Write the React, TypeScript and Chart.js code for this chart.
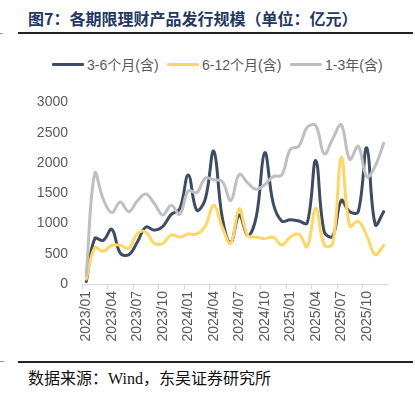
import React, { useEffect, useRef } from "react";
import { Chart, registerables } from "chart.js";

Chart.register(...registerables);

const categories = [
  "2023/01", "2023/02", "2023/03", "2023/04", "2023/05", "2023/06",
  "2023/07", "2023/08", "2023/09", "2023/10", "2023/11", "2023/12",
  "2024/01", "2024/02", "2024/03", "2024/04", "2024/05", "2024/06",
  "2024/07", "2024/08", "2024/09", "2024/10", "2024/11", "2024/12",
  "2025/01", "2025/02", "2025/03", "2025/04", "2025/05", "2025/06",
  "2025/07", "2025/08", "2025/09", "2025/10", "2025/11", "2025/12",
];

const seriesNames = ["3-6个月(含)", "6-12个月(含)", "1-3年(含)"];

const shortTerm = [
  40, 750, 720, 905, 510, 485, 690, 940, 890, 950, 1150, 1240,
  1800, 1220, 1400, 2195, 1100, 690, 1140, 800, 1110, 2170, 1330, 1040,
  1060, 1040, 1010, 2040, 860, 790, 1380, 1195, 1195, 2250, 980, 1195,
];

const midTerm = [
  80, 600, 540, 640, 640, 590, 830, 860, 670, 670, 810, 775,
  826, 826, 958, 1300, 940, 670, 1240, 800, 774, 748, 774, 642,
  774, 826, 616, 1250, 642, 668, 2090, 958, 1037, 800, 485, 642,
];

const longTerm = [
  150, 1827, 1400, 1180, 1354, 1195, 1370, 1485, 1330, 1142, 1300, 1150,
  1537, 1511, 1748, 1722, 1695, 1380, 1810, 1670, 1564, 1643, 1774, 1800,
  2222, 2275, 2590, 2617, 2150, 2400, 2630, 2060, 2275, 1774, 1950, 2327,
];

const yTicks = [0, 500, 1000, 1500, 2000, 2500, 3000];

const colors = ["#3C4B66", "#FFD75E", "#BFBFBF"];

const FONT = "'Liberation Sans', Arial, 'Noto Sans CJK SC', sans-serif";

export default function App() {
  const ref = useRef<HTMLCanvasElement | null>(null);

  useEffect(() => {
    if (!ref.current) return;
    const chart = new Chart(ref.current, {
      type: "line",
      data: {
        labels: categories,
        datasets: [
          { label: seriesNames[0], data: shortTerm, borderColor: colors[0], backgroundColor: colors[0], order: 3 },
          { label: seriesNames[1], data: midTerm, borderColor: colors[1], backgroundColor: colors[1], order: 2 },
          { label: seriesNames[2], data: longTerm, borderColor: colors[2], backgroundColor: colors[2], order: 1 },
        ].map((d) => ({
          ...d,
          borderWidth: 3,
          pointRadius: 0,
          tension: 0.4,
          fill: false,
          borderCapStyle: "round" as const,
          borderJoinStyle: "round" as const,
        })),
      },
      options: {
        animation: false,
        responsive: false,
        maintainAspectRatio: false,
        layout: { padding: { top: 14, right: 27, left: 0, bottom: 0 } },
        plugins: { legend: { display: false }, tooltip: { enabled: false }, title: { display: false } },
        scales: {
          x: {
            type: "category",
            offset: true,
            afterFit: (s: any) => {
              s.height = 66;
            },
            grid: {
              display: true,
              offset: true,
              drawOnChartArea: false,
              drawTicks: true,
              tickLength: 5,
              tickColor: (ctx: any) => (ctx.index % 3 === 0 ? "#D9D9D9" : "rgba(0,0,0,0)"),
              color: "#D9D9D9",
            },
            border: { display: true, color: "#D9D9D9", width: 1 },
            ticks: {
              autoSkip: false,
              maxRotation: 90,
              minRotation: 90,
              padding: 2,
              color: "#595959",
              font: { family: FONT, size: 14 },
              callback: (_v: any, i: number) => (i % 3 === 0 ? categories[i] : ""),
            },
          },
          y: {
            min: yTicks[0],
            max: yTicks[yTicks.length - 1],
            afterFit: (s: any) => {
              s.width = 82;
            },
            afterBuildTicks: (s: any) => {
              s.ticks = yTicks.map((v) => ({ value: v }));
            },
            grid: { display: false, drawTicks: false },
            border: { display: false },
            ticks: {
              padding: 14,
              color: "#595959",
              font: { family: FONT, size: 14 },
              callback: (v: any) => String(v),
            },
          },
        },
      },
    });
    return () => chart.destroy();
  }, []);

  const legendLeft = [52, 167, 290];

  return (
    <div style={{ position: "fixed", left: 0, top: 0, width: 415, height: 399, background: "#fff", overflow: "hidden" }}>
      <div style={{ position: "absolute", left: 0, top: 33, width: 3, height: 1, background: "#999" }} />
      <div
        style={{
          position: "absolute",
          left: 28,
          top: 9,
          fontFamily: "'Noto Sans CJK SC', sans-serif",
          fontWeight: 700,
          fontSize: 16,
          lineHeight: "18px",
          color: "#1F3864",
          whiteSpace: "nowrap",
        }}
      >
        图7：各期限理财产品发行规模（单位：亿元）
      </div>
      <div style={{ position: "absolute", left: 18, top: 32, width: 395, height: 2, background: "#222" }} />
      {seriesNames.map((n, i) => (
        <div
          key={n}
          style={{
            position: "absolute",
            left: legendLeft[i],
            top: 56,
            height: 16,
            display: "flex",
            alignItems: "center",
            fontFamily: FONT,
            fontSize: 14,
            color: "#595959",
            whiteSpace: "nowrap",
          }}
        >
          <span style={{ display: "inline-block", width: 32, height: 3, background: colors[i], marginRight: 3, borderRadius: 1 }} />
          <span>{n}</span>
        </div>
      ))}
      <div style={{ position: "absolute", left: 0, top: 80, width: 415, height: 270 }}>
        <canvas ref={ref} width={415} height={270} style={{ width: 415, height: 270, display: "block" }} />
      </div>
      <div style={{ position: "absolute", left: 0, top: 361, width: 4, height: 1, background: "#999" }} />
      <div style={{ position: "absolute", left: 18, top: 361, width: 395, height: 2, background: "#222" }} />
      <div
        style={{
          position: "absolute",
          left: 28,
          top: 370,
          fontFamily: "'Liberation Serif', 'Noto Sans CJK SC', serif",
          fontSize: 16,
          lineHeight: "18px",
          color: "#111",
          whiteSpace: "nowrap",
        }}
      >
        数据来源：Wind，东吴证券研究所
      </div>
    </div>
  );
}
